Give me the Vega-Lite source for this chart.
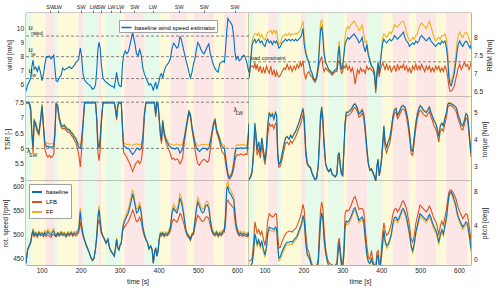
{
"$schema":"https://vega.github.io/schema/vega-lite/v6.json",
"padding":{"left":2,"top":3,"right":3,"bottom":5},
"background":"white",
"config":{"font":"Liberation Sans","view":{"stroke":"#262626","strokeWidth":0.6},
"axis":{"labelFontSize":6.5,"titleFontSize":6.8,"titleFontWeight":"normal","labelColor":"#262626","titleColor":"#262626","domain":false,"ticks":false,"grid":false,"labelPadding":2.5,"titlePadding":4,"labelOverlap":false},
"text":{"font":"Liberation Sans"}},
"datasets":{
"bg":[{"t0":60,"t1":73,"c":"g"},{"t0":73,"t1":110,"c":"y"},{"t0":110,"t1":134,"c":"p"},{"t0":134,"t1":143,"c":"g"},{"t0":143,"t1":194,"c":"y"},{"t0":194,"t1":206,"c":"p"},{"t0":206,"t1":245,"c":"g"},{"t0":245,"t1":253,"c":"p"},{"t0":253,"t1":264,"c":"y"},{"t0":264,"t1":304,"c":"g"},{"t0":304,"t1":312,"c":"y"},{"t0":312,"t1":364,"c":"p"},{"t0":364,"t1":403,"c":"g"},{"t0":403,"t1":430,"c":"y"},{"t0":430,"t1":472,"c":"p"},{"t0":472,"t1":490,"c":"y"},{"t0":490,"t1":541,"c":"p"},{"t0":541,"t1":567,"c":"y"},{"t0":567,"t1":622,"c":"p"},{"t0":622,"t1":631,"c":"y"}],
"ann":[{"p":"w","k":"m","t":66.5,"v":10.0,"txt":"u"},{"p":"w","k":"s","t":73.5,"v":9.7,"txt":"rated"},{"p":"w","k":"m","t":66.5,"v":8.47,"txt":"u"},{"p":"w","k":"s","t":73.5,"v":8.22,"txt":"te"},{"p":"w","k":"m","t":66.5,"v":6.99,"txt":"u"},{"p":"w","k":"s","t":73.5,"v":6.7,"txt":"lw"},{"p":"s","k":"m","t":62,"v":5.9,"txt":"λ"},{"p":"s","k":"s","t":68,"v":5.77,"txt":"SW"},{"p":"s","k":"m","t":591,"v":7.26,"txt":"λ"},{"p":"s","k":"s","t":597,"v":7.14,"txt":"LW"},{"p":"r","k":"l","t":62,"v":7.43,"txt":"load constraint"}],
"d":[
{"t":60,"w":5.55,"rb":6.9,"rl":6.85,"rf":6.92,"sb":7.5,"sl":7.47,"sf":7.5,"qb":2.5,"ql":2.48,"qf":2.51,"nb":440,"nl":439,"nf":441,"pb":-0.9,"pl":-0.2,"pf":-0.9},
{"t":64,"w":6.0,"rb":7.3,"rl":7.2,"rf":7.32,"sb":7.5,"sl":7.47,"sf":7.5,"qb":2.6,"ql":2.58,"qf":2.61,"nb":468,"nl":467,"nf":469,"pb":-0.8,"pl":-0.2,"pf":-0.8},
{"t":68,"w":6.2,"rb":7.8,"rl":7.2,"rf":7.9,"sb":7.5,"sl":7.46,"sf":7.5,"qb":2.8,"ql":2.75,"qf":2.82,"nb":476,"nl":474,"nf":478,"pb":-0.5,"pl":0.1,"pf":-0.6},
{"t":72,"w":6.5,"rb":7.9,"rl":7.15,"rf":8.05,"sb":7.3,"sl":7.22,"sf":7.34,"qb":3.6,"ql":3.45,"qf":3.63,"nb":484,"nl":482,"nf":487,"pb":1.0,"pl":2.0,"pf":0.7},
{"t":75,"w":7.3,"rb":7.95,"rl":7.3,"rf":8.1,"sb":6.5,"sl":6.42,"sf":6.55,"qb":4.6,"ql":4.35,"qf":4.63,"nb":500,"nl":497,"nf":503,"pb":3.0,"pl":4.4,"pf":2.7},
{"t":78,"w":7.75,"rb":7.85,"rl":7.1,"rf":8.1,"sb":6.05,"sl":5.85,"sf":6.12,"qb":4.2,"ql":3.95,"qf":4.23,"nb":508,"nl":503,"nf":512,"pb":2.5,"pl":3.8,"pf":2.2},
{"t":81,"w":7.1,"rb":7.9,"rl":7.25,"rf":8.05,"sb":6.9,"sl":6.83,"sf":6.94,"qb":3.6,"ql":3.4,"qf":3.63,"nb":498,"nl":495,"nf":501,"pb":1.8,"pl":3.1,"pf":1.5},
{"t":85,"w":7.25,"rb":7.95,"rl":7.05,"rf":8.12,"sb":6.8,"sl":6.73,"sf":6.84,"qb":3.9,"ql":3.65,"qf":3.93,"nb":503,"nl":500,"nf":506,"pb":2.3,"pl":3.5,"pf":2.0},
{"t":89,"w":6.95,"rb":7.85,"rl":7.2,"rf":8.0,"sb":6.6,"sl":6.52,"sf":6.64,"qb":3.5,"ql":3.3,"qf":3.53,"nb":497,"nl":494,"nf":500,"pb":1.6,"pl":2.9,"pf":1.3},
{"t":93,"w":7.3,"rb":7.9,"rl":7.0,"rf":8.08,"sb":6.5,"sl":6.43,"sf":6.55,"qb":4.05,"ql":3.8,"qf":4.08,"nb":504,"nl":501,"nf":507,"pb":2.1,"pl":3.3,"pf":1.8},
{"t":97,"w":6.9,"rb":7.8,"rl":7.15,"rf":7.98,"sb":6.9,"sl":6.82,"sf":6.94,"qb":3.6,"ql":3.4,"qf":3.63,"nb":500,"nl":497,"nf":503,"pb":1.2,"pl":2.4,"pf":0.9},
{"t":101,"w":6.3,"rb":7.75,"rl":7.0,"rf":7.92,"sb":7.4,"sl":7.33,"sf":7.44,"qb":3.2,"ql":3.05,"qf":3.22,"nb":502,"nl":499,"nf":505,"pb":0.5,"pl":1.6,"pf":0.2},
{"t":105,"w":6.8,"rb":7.9,"rl":7.2,"rf":8.05,"sb":6.7,"sl":6.62,"sf":6.74,"qb":3.7,"ql":3.5,"qf":3.73,"nb":498,"nl":495,"nf":501,"pb":1.5,"pl":2.8,"pf":1.2},
{"t":108,"w":7.4,"rb":7.95,"rl":7.1,"rf":8.15,"sb":6.2,"sl":6.0,"sf":6.26,"qb":4.5,"ql":4.15,"qf":4.53,"nb":504,"nl":500,"nf":508,"pb":3.0,"pl":4.5,"pf":2.7},
{"t":112,"w":8.0,"rb":7.85,"rl":7.0,"rf":8.15,"sb":6.05,"sl":5.8,"sf":6.15,"qb":5.0,"ql":4.6,"qf":5.04,"nb":500,"nl":496,"nf":505,"pb":3.8,"pl":5.4,"pf":3.5},
{"t":116,"w":7.95,"rb":7.9,"rl":7.2,"rf":8.2,"sb":6.07,"sl":5.72,"sf":6.18,"qb":4.85,"ql":4.5,"qf":4.89,"nb":506,"nl":499,"nf":511,"pb":3.7,"pl":5.2,"pf":3.4},
{"t":120,"w":8.05,"rb":7.8,"rl":6.95,"rf":8.1,"sb":6.03,"sl":5.78,"sf":6.13,"qb":4.95,"ql":4.55,"qf":4.99,"nb":501,"nl":496,"nf":506,"pb":3.6,"pl":5.0,"pf":3.3},
{"t":124,"w":7.85,"rb":7.9,"rl":7.1,"rf":8.2,"sb":6.06,"sl":5.7,"sf":6.16,"qb":4.75,"ql":4.4,"qf":4.79,"nb":498,"nl":494,"nf":503,"pb":3.5,"pl":5.1,"pf":3.2},
{"t":128,"w":7.95,"rb":7.85,"rl":6.9,"rf":8.12,"sb":6.04,"sl":5.75,"sf":6.15,"qb":5.0,"ql":4.6,"qf":5.04,"nb":505,"nl":499,"nf":510,"pb":3.8,"pl":5.4,"pf":3.5},
{"t":131,"w":8.1,"rb":7.9,"rl":7.05,"rf":8.18,"sb":6.08,"sl":5.8,"sf":6.16,"qb":4.9,"ql":4.55,"qf":4.94,"nb":507,"nl":500,"nf":512,"pb":3.6,"pl":5.3,"pf":3.3},
{"t":134,"w":7.2,"rb":7.8,"rl":6.95,"rf":7.95,"sb":6.5,"sl":6.4,"sf":6.55,"qb":3.5,"ql":3.3,"qf":3.53,"nb":500,"nl":497,"nf":503,"pb":1.5,"pl":2.8,"pf":1.2},
{"t":137,"w":6.3,"rb":7.7,"rl":6.9,"rf":7.8,"sb":7.45,"sl":7.4,"sf":7.47,"qb":3.05,"ql":2.95,"qf":3.07,"nb":497,"nl":495,"nf":499,"pb":0.1,"pl":1.3,"pf":-0.2},
{"t":141,"w":6.25,"rb":7.75,"rl":6.95,"rf":7.85,"sb":7.4,"sl":7.33,"sf":7.43,"qb":3.15,"ql":3.0,"qf":3.17,"nb":503,"nl":500,"nf":505,"pb":0.3,"pl":1.4,"pf":0.0},
{"t":145,"w":6.5,"rb":7.85,"rl":7.05,"rf":8.0,"sb":7.0,"sl":6.93,"sf":7.04,"qb":3.45,"ql":3.25,"qf":3.48,"nb":499,"nl":496,"nf":502,"pb":0.9,"pl":2.1,"pf":0.6},
{"t":150,"w":6.7,"rb":7.9,"rl":7.15,"rf":8.05,"sb":6.75,"sl":6.68,"sf":6.79,"qb":3.8,"ql":3.6,"qf":3.83,"nb":504,"nl":501,"nf":507,"pb":1.4,"pl":2.6,"pf":1.1},
{"t":154,"w":7.2,"rb":7.95,"rl":7.1,"rf":8.1,"sb":6.7,"sl":6.63,"sf":6.74,"qb":4.05,"ql":3.85,"qf":4.08,"nb":500,"nl":497,"nf":503,"pb":1.8,"pl":3.0,"pf":1.5},
{"t":158,"w":7.05,"rb":7.9,"rl":7.25,"rf":8.05,"sb":6.75,"sl":6.66,"sf":6.79,"qb":4.1,"ql":3.9,"qf":4.13,"nb":502,"nl":499,"nf":505,"pb":2.0,"pl":3.2,"pf":1.7},
{"t":163,"w":7.15,"rb":7.95,"rl":7.1,"rf":8.12,"sb":6.65,"sl":6.58,"sf":6.7,"qb":4.0,"ql":3.8,"qf":4.03,"nb":497,"nl":494,"nf":500,"pb":2.0,"pl":3.3,"pf":1.7},
{"t":167,"w":7.2,"rb":7.9,"rl":7.2,"rf":8.05,"sb":6.6,"sl":6.52,"sf":6.64,"qb":4.15,"ql":3.95,"qf":4.18,"nb":503,"nl":500,"nf":506,"pb":2.1,"pl":3.3,"pf":1.8},
{"t":171,"w":7.3,"rb":7.95,"rl":7.05,"rf":8.1,"sb":6.6,"sl":6.53,"sf":6.64,"qb":4.05,"ql":3.85,"qf":4.08,"nb":500,"nl":497,"nf":503,"pb":2.0,"pl":3.2,"pf":1.7},
{"t":176,"w":7.15,"rb":7.9,"rl":7.2,"rf":8.08,"sb":6.5,"sl":6.42,"sf":6.55,"qb":4.2,"ql":4.0,"qf":4.23,"nb":504,"nl":501,"nf":507,"pb":2.3,"pl":3.5,"pf":2.0},
{"t":180,"w":7.25,"rb":7.95,"rl":7.1,"rf":8.12,"sb":6.45,"sl":6.37,"sf":6.5,"qb":4.3,"ql":4.1,"qf":4.33,"nb":499,"nl":496,"nf":502,"pb":2.5,"pl":3.6,"pf":2.2},
{"t":184,"w":7.4,"rb":7.9,"rl":7.25,"rf":8.1,"sb":6.35,"sl":6.26,"sf":6.4,"qb":4.45,"ql":4.25,"qf":4.48,"nb":503,"nl":500,"nf":506,"pb":2.8,"pl":4.0,"pf":2.5},
{"t":188,"w":7.6,"rb":7.95,"rl":7.15,"rf":8.15,"sb":6.3,"sl":6.18,"sf":6.35,"qb":4.6,"ql":4.4,"qf":4.63,"nb":501,"nl":497,"nf":505,"pb":3.3,"pl":4.5,"pf":3.0},
{"t":192,"w":7.7,"rb":8.0,"rl":7.3,"rf":8.2,"sb":6.15,"sl":5.98,"sf":6.22,"qb":4.8,"ql":4.55,"qf":4.83,"nb":505,"nl":500,"nf":509,"pb":3.8,"pl":5.0,"pf":3.5},
{"t":195,"w":7.85,"rb":8.05,"rl":7.2,"rf":8.3,"sb":6.05,"sl":5.8,"sf":6.15,"qb":4.95,"ql":4.7,"qf":4.99,"nb":510,"nl":504,"nf":515,"pb":4.2,"pl":5.5,"pf":3.9},
{"t":199,"w":8.6,"rb":8.25,"rl":7.35,"rf":8.45,"sb":6.0,"sl":5.4,"sf":6.12,"qb":5.15,"ql":4.95,"qf":5.19,"nb":548,"nl":527,"nf":556,"pb":5.2,"pl":6.5,"pf":4.9},
{"t":202,"w":8.1,"rb":7.8,"rl":7.0,"rf":8.0,"sb":6.2,"sl":5.9,"sf":6.3,"qb":4.8,"ql":4.55,"qf":4.84,"nb":520,"nl":510,"nf":524,"pb":4.6,"pl":5.8,"pf":4.3},
{"t":206,"w":6.8,"rb":7.55,"rl":6.85,"rf":7.65,"sb":6.8,"sl":6.72,"sf":6.84,"qb":3.6,"ql":3.4,"qf":3.63,"nb":500,"nl":497,"nf":503,"pb":2.0,"pl":3.1,"pf":1.7},
{"t":210,"w":6.35,"rb":7.4,"rl":7.0,"rf":7.45,"sb":7.5,"sl":7.46,"sf":7.5,"qb":3.1,"ql":3.05,"qf":3.11,"nb":488,"nl":487,"nf":489,"pb":0.5,"pl":1.2,"pf":0.3},
{"t":214,"w":6.2,"rb":7.3,"rl":7.05,"rf":7.32,"sb":7.5,"sl":7.47,"sf":7.5,"qb":3.0,"ql":2.97,"qf":3.01,"nb":478,"nl":477,"nf":479,"pb":0.3,"pl":0.8,"pf":0.1},
{"t":218,"w":6.1,"rb":7.1,"rl":6.95,"rf":7.12,"sb":7.5,"sl":7.47,"sf":7.5,"qb":2.95,"ql":2.92,"qf":2.96,"nb":470,"nl":469,"nf":471,"pb":-0.3,"pl":0.0,"pf":-0.4},
{"t":222,"w":6.0,"rb":7.0,"rl":6.9,"rf":7.02,"sb":7.5,"sl":7.47,"sf":7.5,"qb":2.75,"ql":2.73,"qf":2.76,"nb":462,"nl":461,"nf":463,"pb":-0.9,"pl":-0.6,"pf":-0.9},
{"t":226,"w":5.9,"rb":6.85,"rl":6.8,"rf":6.87,"sb":7.5,"sl":7.47,"sf":7.5,"qb":2.6,"ql":2.58,"qf":2.61,"nb":452,"nl":451,"nf":453,"pb":-1.2,"pl":-0.9,"pf":-1.2},
{"t":230,"w":5.7,"rb":6.8,"rl":6.75,"rf":6.82,"sb":7.5,"sl":7.47,"sf":7.5,"qb":2.5,"ql":2.48,"qf":2.51,"nb":446,"nl":445,"nf":447,"pb":-1.2,"pl":-1.0,"pf":-1.2},
{"t":234,"w":5.75,"rb":6.9,"rl":6.85,"rf":6.92,"sb":7.5,"sl":7.47,"sf":7.5,"qb":2.55,"ql":2.53,"qf":2.56,"nb":450,"nl":449,"nf":451,"pb":-1.2,"pl":-0.8,"pf":-1.2},
{"t":238,"w":6.0,"rb":7.2,"rl":7.1,"rf":7.25,"sb":7.5,"sl":7.47,"sf":7.5,"qb":3.0,"ql":2.97,"qf":3.01,"nb":470,"nl":469,"nf":471,"pb":-0.5,"pl":0.0,"pf":-0.6},
{"t":241,"w":7.0,"rb":7.7,"rl":7.3,"rf":7.85,"sb":7.0,"sl":6.92,"sf":7.04,"qb":3.9,"ql":3.75,"qf":3.93,"nb":495,"nl":492,"nf":498,"pb":2.0,"pl":3.2,"pf":1.7},
{"t":244,"w":8.5,"rb":8.2,"rl":7.4,"rf":8.4,"sb":6.2,"sl":5.9,"sf":6.28,"qb":4.9,"ql":4.7,"qf":4.94,"nb":535,"nl":521,"nf":540,"pb":4.5,"pl":5.8,"pf":4.2},
{"t":247,"w":9.0,"rb":8.3,"rl":7.45,"rf":8.5,"sb":6.0,"sl":5.6,"sf":6.12,"qb":5.2,"ql":5.0,"qf":5.24,"nb":552,"nl":531,"nf":560,"pb":5.5,"pl":6.8,"pf":5.2},
{"t":250,"w":8.6,"rb":8.0,"rl":7.2,"rf":8.2,"sb":6.3,"sl":5.95,"sf":6.38,"qb":4.8,"ql":4.6,"qf":4.84,"nb":530,"nl":518,"nf":534,"pb":4.8,"pl":6.0,"pf":4.5},
{"t":253,"w":7.4,"rb":7.55,"rl":7.05,"rf":7.65,"sb":6.9,"sl":6.82,"sf":6.95,"qb":3.9,"ql":3.75,"qf":3.93,"nb":505,"nl":502,"nf":508,"pb":2.5,"pl":3.6,"pf":2.2},
{"t":257,"w":6.5,"rb":7.3,"rl":7.15,"rf":7.33,"sb":7.5,"sl":7.46,"sf":7.5,"qb":3.1,"ql":3.07,"qf":3.11,"nb":497,"nl":496,"nf":498,"pb":0.8,"pl":1.3,"pf":0.6},
{"t":261,"w":6.3,"rb":7.2,"rl":7.1,"rf":7.22,"sb":7.5,"sl":7.47,"sf":7.5,"qb":2.9,"ql":2.88,"qf":2.91,"nb":490,"nl":489,"nf":491,"pb":-0.2,"pl":0.2,"pf":-0.3},
{"t":265,"w":6.2,"rb":7.1,"rl":7.05,"rf":7.12,"sb":7.5,"sl":7.47,"sf":7.5,"qb":2.8,"ql":2.78,"qf":2.81,"nb":482,"nl":481,"nf":483,"pb":-0.8,"pl":-0.4,"pf":-0.8},
{"t":270,"w":6.1,"rb":7.05,"rl":7.0,"rf":7.07,"sb":7.5,"sl":7.47,"sf":7.5,"qb":2.9,"ql":2.87,"qf":2.91,"nb":490,"nl":489,"nf":491,"pb":-1.0,"pl":-0.6,"pf":-1.0},
{"t":274,"w":6.0,"rb":7.0,"rl":6.95,"rf":7.02,"sb":7.5,"sl":7.47,"sf":7.5,"qb":2.7,"ql":2.68,"qf":2.71,"nb":472,"nl":471,"nf":473,"pb":-1.0,"pl":-0.7,"pf":-1.0},
{"t":278,"w":5.95,"rb":7.05,"rl":7.0,"rf":7.07,"sb":7.5,"sl":7.47,"sf":7.5,"qb":2.65,"ql":2.63,"qf":2.66,"nb":465,"nl":464,"nf":466,"pb":-1.2,"pl":-0.9,"pf":-1.2},
{"t":282,"w":5.9,"rb":7.1,"rl":7.05,"rf":7.12,"sb":7.5,"sl":7.47,"sf":7.5,"qb":2.6,"ql":2.58,"qf":2.61,"nb":460,"nl":459,"nf":461,"pb":-1.0,"pl":-0.7,"pf":-1.0},
{"t":286,"w":5.8,"rb":7.1,"rl":7.05,"rf":7.12,"sb":7.5,"sl":7.47,"sf":7.5,"qb":2.7,"ql":2.68,"qf":2.71,"nb":455,"nl":454,"nf":456,"pb":-0.9,"pl":-0.5,"pf":-0.9},
{"t":289,"w":6.3,"rb":7.5,"rl":7.3,"rf":7.6,"sb":7.3,"sl":7.24,"sf":7.33,"qb":3.4,"ql":3.3,"qf":3.42,"nb":470,"nl":469,"nf":472,"pb":0.8,"pl":1.8,"pf":0.6},
{"t":292,"w":6.9,"rb":7.75,"rl":7.35,"rf":7.9,"sb":7.0,"sl":6.92,"sf":7.04,"qb":3.5,"ql":3.35,"qf":3.53,"nb":490,"nl":488,"nf":493,"pb":2.0,"pl":2.5,"pf":1.8},
{"t":295,"w":6.3,"rb":7.3,"rl":7.15,"rf":7.35,"sb":7.4,"sl":7.35,"sf":7.43,"qb":3.0,"ql":2.95,"qf":3.02,"nb":472,"nl":471,"nf":473,"pb":0.5,"pl":1.0,"pf":0.3},
{"t":298,"w":6.0,"rb":7.1,"rl":7.0,"rf":7.12,"sb":7.5,"sl":7.47,"sf":7.5,"qb":2.7,"ql":2.68,"qf":2.71,"nb":468,"nl":467,"nf":469,"pb":-0.8,"pl":-0.4,"pf":-0.8},
{"t":301,"w":5.9,"rb":7.2,"rl":7.05,"rf":7.22,"sb":7.5,"sl":7.47,"sf":7.5,"qb":2.65,"ql":2.63,"qf":2.66,"nb":478,"nl":477,"nf":479,"pb":-1.0,"pl":-0.6,"pf":-1.0},
{"t":304,"w":5.9,"rb":7.5,"rl":7.2,"rf":7.55,"sb":7.5,"sl":7.45,"sf":7.5,"qb":3.6,"ql":3.5,"qf":3.62,"nb":482,"nl":481,"nf":483,"pb":0.5,"pl":1.2,"pf":0.3},
{"t":307,"w":7.4,"rb":7.8,"rl":7.15,"rf":8.0,"sb":6.7,"sl":6.6,"sf":6.75,"qb":4.6,"ql":4.45,"qf":4.63,"nb":508,"nl":505,"nf":511,"pb":3.8,"pl":5.3,"pf":3.5},
{"t":310,"w":8.1,"rb":7.9,"rl":7.25,"rf":8.2,"sb":6.1,"sl":5.85,"sf":6.18,"qb":5.0,"ql":4.88,"qf":5.04,"nb":522,"nl":513,"nf":528,"pb":4.5,"pl":5.8,"pf":4.2},
{"t":314,"w":8.4,"rb":8.0,"rl":7.1,"rf":8.3,"sb":6.05,"sl":5.8,"sf":6.15,"qb":5.0,"ql":4.9,"qf":5.04,"nb":530,"nl":518,"nf":536,"pb":4.4,"pl":5.7,"pf":4.1},
{"t":318,"w":8.2,"rb":7.95,"rl":7.2,"rf":8.25,"sb":6.0,"sl":5.7,"sf":6.12,"qb":5.05,"ql":4.92,"qf":5.09,"nb":538,"nl":523,"nf":545,"pb":4.6,"pl":5.9,"pf":4.3},
{"t":322,"w":8.35,"rb":8.0,"rl":7.05,"rf":8.35,"sb":6.0,"sl":5.6,"sf":6.14,"qb":5.1,"ql":4.98,"qf":5.14,"nb":545,"nl":527,"nf":553,"pb":5.0,"pl":6.3,"pf":4.7},
{"t":326,"w":8.8,"rb":8.05,"rl":7.15,"rf":8.4,"sb":5.95,"sl":5.5,"sf":6.12,"qb":5.2,"ql":5.08,"qf":5.24,"nb":558,"nl":535,"nf":567,"pb":5.5,"pl":6.8,"pf":5.2},
{"t":330,"w":9.3,"rb":8.1,"rl":6.95,"rf":8.45,"sb":5.85,"sl":5.35,"sf":6.1,"qb":5.3,"ql":5.18,"qf":5.34,"nb":572,"nl":543,"nf":583,"pb":6.0,"pl":7.3,"pf":5.7},
{"t":333,"w":9.7,"rb":8.05,"rl":6.7,"rf":8.4,"sb":5.8,"sl":5.25,"sf":6.1,"qb":5.32,"ql":5.2,"qf":5.36,"nb":585,"nl":551,"nf":594,"pb":6.1,"pl":7.4,"pf":5.8},
{"t":336,"w":9.3,"rb":8.0,"rl":6.9,"rf":8.35,"sb":5.85,"sl":5.35,"sf":6.12,"qb":5.25,"ql":5.13,"qf":5.29,"nb":575,"nl":545,"nf":585,"pb":5.7,"pl":7.0,"pf":5.4},
{"t":339,"w":8.9,"rb":7.95,"rl":7.1,"rf":8.3,"sb":5.9,"sl":5.45,"sf":6.13,"qb":5.15,"ql":5.03,"qf":5.19,"nb":562,"nl":537,"nf":570,"pb":5.2,"pl":6.5,"pf":4.9},
{"t":343,"w":8.2,"rb":7.85,"rl":7.0,"rf":8.2,"sb":6.0,"sl":5.55,"sf":6.15,"qb":4.95,"ql":4.83,"qf":4.99,"nb":545,"nl":527,"nf":552,"pb":4.6,"pl":5.9,"pf":4.3},
{"t":347,"w":8.05,"rb":7.9,"rl":7.15,"rf":8.25,"sb":6.0,"sl":5.6,"sf":6.13,"qb":5.0,"ql":4.88,"qf":5.04,"nb":548,"nl":529,"nf":555,"pb":4.8,"pl":6.0,"pf":4.5},
{"t":351,"w":8.5,"rb":8.0,"rl":7.05,"rf":8.35,"sb":5.95,"sl":5.5,"sf":6.12,"qb":5.1,"ql":4.98,"qf":5.14,"nb":560,"nl":536,"nf":568,"pb":5.0,"pl":6.0,"pf":4.7},
{"t":355,"w":8.1,"rb":7.75,"rl":7.1,"rf":8.1,"sb":6.0,"sl":5.6,"sf":6.14,"qb":4.95,"ql":4.83,"qf":4.99,"nb":545,"nl":527,"nf":552,"pb":4.5,"pl":5.7,"pf":4.2},
{"t":359,"w":7.2,"rb":7.6,"rl":7.0,"rf":7.85,"sb":6.3,"sl":6.0,"sf":6.38,"qb":4.4,"ql":4.25,"qf":4.44,"nb":515,"nl":509,"nf":519,"pb":2.5,"pl":3.6,"pf":2.2},
{"t":363,"w":6.8,"rb":7.8,"rl":7.2,"rf":7.9,"sb":7.1,"sl":7.02,"sf":7.14,"qb":3.7,"ql":3.55,"qf":3.73,"nb":500,"nl":497,"nf":503,"pb":0.6,"pl":1.6,"pf":0.3},
{"t":367,"w":6.5,"rb":7.5,"rl":7.1,"rf":7.55,"sb":7.5,"sl":7.46,"sf":7.5,"qb":3.1,"ql":3.07,"qf":3.11,"nb":490,"nl":489,"nf":491,"pb":-0.3,"pl":0.2,"pf":-0.4},
{"t":371,"w":6.25,"rb":7.35,"rl":7.15,"rf":7.38,"sb":7.5,"sl":7.47,"sf":7.5,"qb":2.85,"ql":2.83,"qf":2.86,"nb":483,"nl":482,"nf":484,"pb":-0.5,"pl":0.0,"pf":-0.6},
{"t":375,"w":6.0,"rb":7.2,"rl":7.1,"rf":7.22,"sb":7.5,"sl":7.47,"sf":7.5,"qb":2.9,"ql":2.88,"qf":2.91,"nb":470,"nl":469,"nf":471,"pb":0.0,"pl":1.0,"pf":-0.2},
{"t":379,"w":6.1,"rb":7.15,"rl":7.05,"rf":7.17,"sb":7.5,"sl":7.47,"sf":7.5,"qb":2.75,"ql":2.73,"qf":2.76,"nb":476,"nl":475,"nf":477,"pb":-0.6,"pl":-0.3,"pf":-0.6},
{"t":383,"w":5.9,"rb":7.0,"rl":6.9,"rf":7.02,"sb":7.5,"sl":7.47,"sf":7.5,"qb":2.6,"ql":2.58,"qf":2.61,"nb":468,"nl":467,"nf":469,"pb":-1.0,"pl":-0.7,"pf":-1.0},
{"t":386,"w":5.6,"rb":6.55,"rl":6.45,"rf":6.57,"sb":7.5,"sl":7.47,"sf":7.5,"qb":2.45,"ql":2.43,"qf":2.46,"nb":440,"nl":439,"nf":441,"pb":-1.2,"pl":-1.0,"pf":-1.2},
{"t":389,"w":5.95,"rb":7.0,"rl":6.9,"rf":7.02,"sb":7.5,"sl":7.47,"sf":7.5,"qb":3.0,"ql":2.97,"qf":3.01,"nb":462,"nl":461,"nf":463,"pb":0.2,"pl":0.8,"pf":0.0},
{"t":392,"w":6.2,"rb":7.3,"rl":7.15,"rf":7.35,"sb":7.1,"sl":7.02,"sf":7.14,"qb":3.25,"ql":3.2,"qf":3.27,"nb":472,"nl":471,"nf":473,"pb":0.5,"pl":1.0,"pf":0.3},
{"t":395,"w":5.7,"rb":7.0,"rl":6.9,"rf":7.02,"sb":7.5,"sl":7.47,"sf":7.5,"qb":2.65,"ql":2.63,"qf":2.66,"nb":455,"nl":454,"nf":456,"pb":-0.8,"pl":-0.4,"pf":-0.8},
{"t":398,"w":6.0,"rb":7.3,"rl":7.1,"rf":7.33,"sb":7.45,"sl":7.4,"sf":7.47,"qb":2.9,"ql":2.87,"qf":2.91,"nb":465,"nl":464,"nf":466,"pb":-0.8,"pl":-0.5,"pf":-0.8},
{"t":401,"w":6.3,"rb":7.6,"rl":7.2,"rf":7.7,"sb":7.0,"sl":6.93,"sf":7.04,"qb":3.3,"ql":3.2,"qf":3.32,"nb":490,"nl":488,"nf":492,"pb":0.5,"pl":1.5,"pf":0.3},
{"t":404,"w":6.7,"rb":7.85,"rl":7.3,"rf":8.0,"sb":6.5,"sl":6.42,"sf":6.55,"qb":3.9,"ql":3.7,"qf":3.93,"nb":502,"nl":499,"nf":505,"pb":2.0,"pl":3.2,"pf":1.7},
{"t":407,"w":6.8,"rb":7.95,"rl":7.2,"rf":8.1,"sb":6.25,"sl":6.15,"sf":6.3,"qb":4.5,"ql":4.3,"qf":4.53,"nb":500,"nl":497,"nf":503,"pb":3.4,"pl":4.3,"pf":3.1},
{"t":410,"w":6.5,"rb":7.9,"rl":7.1,"rf":8.05,"sb":6.9,"sl":6.82,"sf":6.94,"qb":3.9,"ql":3.7,"qf":3.93,"nb":503,"nl":500,"nf":506,"pb":2.2,"pl":3.4,"pf":1.9},
{"t":414,"w":7.0,"rb":7.85,"rl":7.25,"rf":8.0,"sb":6.5,"sl":6.42,"sf":6.55,"qb":3.7,"ql":3.5,"qf":3.73,"nb":498,"nl":495,"nf":501,"pb":1.6,"pl":2.8,"pf":1.3},
{"t":418,"w":7.3,"rb":7.9,"rl":7.1,"rf":8.08,"sb":6.3,"sl":6.2,"sf":6.35,"qb":3.9,"ql":3.7,"qf":3.93,"nb":502,"nl":499,"nf":505,"pb":1.8,"pl":3.0,"pf":1.5},
{"t":422,"w":7.45,"rb":7.95,"rl":7.2,"rf":8.15,"sb":6.2,"sl":6.08,"sf":6.26,"qb":4.05,"ql":3.85,"qf":4.08,"nb":500,"nl":497,"nf":503,"pb":2.3,"pl":3.5,"pf":2.0},
{"t":426,"w":7.6,"rb":7.9,"rl":7.05,"rf":8.1,"sb":6.1,"sl":5.95,"sf":6.17,"qb":4.4,"ql":4.2,"qf":4.43,"nb":505,"nl":501,"nf":509,"pb":3.0,"pl":4.2,"pf":2.7},
{"t":430,"w":7.9,"rb":7.95,"rl":7.15,"rf":8.2,"sb":6.05,"sl":5.8,"sf":6.14,"qb":4.85,"ql":4.7,"qf":4.89,"nb":515,"nl":508,"nf":520,"pb":4.2,"pl":5.3,"pf":3.9},
{"t":434,"w":8.6,"rb":8.05,"rl":7.2,"rf":8.35,"sb":6.0,"sl":5.65,"sf":6.12,"qb":5.1,"ql":4.98,"qf":5.14,"nb":545,"nl":526,"nf":552,"pb":4.9,"pl":5.9,"pf":4.6},
{"t":438,"w":8.95,"rb":8.0,"rl":7.05,"rf":8.3,"sb":6.0,"sl":5.68,"sf":6.1,"qb":5.15,"ql":5.03,"qf":5.19,"nb":555,"nl":532,"nf":563,"pb":5.0,"pl":6.0,"pf":4.7},
{"t":442,"w":8.8,"rb":7.95,"rl":7.25,"rf":8.3,"sb":5.98,"sl":5.62,"sf":6.12,"qb":4.9,"ql":4.78,"qf":4.94,"nb":550,"nl":529,"nf":558,"pb":4.6,"pl":5.6,"pf":4.3},
{"t":446,"w":8.6,"rb":8.0,"rl":7.1,"rf":8.35,"sb":6.02,"sl":5.66,"sf":6.14,"qb":5.0,"ql":4.88,"qf":5.04,"nb":545,"nl":526,"nf":552,"pb":4.9,"pl":5.9,"pf":4.6},
{"t":450,"w":8.7,"rb":8.05,"rl":7.2,"rf":8.4,"sb":6.0,"sl":5.63,"sf":6.12,"qb":5.15,"ql":5.03,"qf":5.19,"nb":555,"nl":532,"nf":563,"pb":5.4,"pl":6.3,"pf":5.1},
{"t":454,"w":9.4,"rb":8.1,"rl":7.15,"rf":8.45,"sb":5.85,"sl":5.5,"sf":6.1,"qb":5.25,"ql":5.13,"qf":5.29,"nb":575,"nl":544,"nf":585,"pb":5.9,"pl":6.8,"pf":5.6},
{"t":457,"w":9.3,"rb":8.15,"rl":7.25,"rf":8.45,"sb":5.9,"sl":5.55,"sf":6.12,"qb":5.25,"ql":5.13,"qf":5.29,"nb":570,"nl":541,"nf":580,"pb":6.0,"pl":6.9,"pf":5.7},
{"t":461,"w":8.8,"rb":8.0,"rl":7.1,"rf":8.35,"sb":6.0,"sl":5.7,"sf":6.13,"qb":5.2,"ql":5.08,"qf":5.24,"nb":555,"nl":532,"nf":563,"pb":5.6,"pl":6.5,"pf":5.3},
{"t":465,"w":8.3,"rb":7.9,"rl":7.2,"rf":8.15,"sb":6.3,"sl":6.15,"sf":6.36,"qb":5.0,"ql":4.85,"qf":5.04,"nb":535,"nl":520,"nf":540,"pb":5.0,"pl":6.0,"pf":4.7},
{"t":469,"w":7.8,"rb":7.85,"rl":7.05,"rf":8.0,"sb":6.6,"sl":6.52,"sf":6.65,"qb":4.7,"ql":4.5,"qf":4.73,"nb":510,"nl":506,"nf":513,"pb":4.0,"pl":5.0,"pf":3.7},
{"t":473,"w":7.4,"rb":7.75,"rl":7.15,"rf":7.9,"sb":6.9,"sl":6.82,"sf":6.94,"qb":4.25,"ql":4.05,"qf":4.28,"nb":500,"nl":497,"nf":503,"pb":3.0,"pl":3.9,"pf":2.7},
{"t":477,"w":6.9,"rb":7.8,"rl":7.0,"rf":7.92,"sb":7.2,"sl":7.13,"sf":7.24,"qb":3.6,"ql":3.45,"qf":3.63,"nb":496,"nl":493,"nf":499,"pb":1.6,"pl":2.4,"pf":1.3},
{"t":481,"w":6.5,"rb":7.85,"rl":7.2,"rf":8.0,"sb":7.1,"sl":7.03,"sf":7.14,"qb":3.55,"ql":3.4,"qf":3.58,"nb":490,"nl":487,"nf":493,"pb":1.0,"pl":2.0,"pf":0.7},
{"t":485,"w":6.9,"rb":7.8,"rl":7.1,"rf":7.95,"sb":6.7,"sl":6.62,"sf":6.75,"qb":4.1,"ql":3.9,"qf":4.13,"nb":500,"nl":497,"nf":503,"pb":1.8,"pl":2.8,"pf":1.5},
{"t":489,"w":7.5,"rb":7.9,"rl":7.25,"rf":8.05,"sb":6.4,"sl":6.3,"sf":6.45,"qb":4.6,"ql":4.4,"qf":4.63,"nb":503,"nl":500,"nf":506,"pb":3.2,"pl":4.2,"pf":2.9},
{"t":493,"w":7.9,"rb":7.85,"rl":7.1,"rf":8.1,"sb":6.15,"sl":5.95,"sf":6.22,"qb":4.95,"ql":4.8,"qf":4.99,"nb":530,"nl":518,"nf":534,"pb":4.0,"pl":5.0,"pf":3.7},
{"t":497,"w":8.6,"rb":7.9,"rl":7.2,"rf":8.25,"sb":6.0,"sl":5.65,"sf":6.12,"qb":5.15,"ql":5.0,"qf":5.19,"nb":555,"nl":533,"nf":563,"pb":4.8,"pl":5.8,"pf":4.5},
{"t":500,"w":9.0,"rb":8.0,"rl":7.1,"rf":8.35,"sb":5.95,"sl":5.5,"sf":6.1,"qb":5.25,"ql":5.1,"qf":5.29,"nb":568,"nl":540,"nf":577,"pb":5.4,"pl":6.4,"pf":5.1},
{"t":504,"w":8.8,"rb":8.05,"rl":7.25,"rf":8.4,"sb":5.9,"sl":5.45,"sf":6.08,"qb":5.2,"ql":5.05,"qf":5.24,"nb":560,"nl":536,"nf":568,"pb":5.2,"pl":6.2,"pf":4.9},
{"t":508,"w":8.5,"rb":8.0,"rl":7.15,"rf":8.35,"sb":5.95,"sl":5.55,"sf":6.12,"qb":5.1,"ql":4.95,"qf":5.14,"nb":550,"nl":530,"nf":557,"pb":5.0,"pl":6.0,"pf":4.7},
{"t":512,"w":8.3,"rb":7.95,"rl":7.05,"rf":8.3,"sb":6.0,"sl":5.6,"sf":6.13,"qb":5.05,"ql":4.9,"qf":5.09,"nb":545,"nl":527,"nf":552,"pb":4.8,"pl":5.8,"pf":4.5},
{"t":516,"w":8.2,"rb":7.9,"rl":7.2,"rf":8.25,"sb":6.0,"sl":5.65,"sf":6.12,"qb":5.0,"ql":4.85,"qf":5.04,"nb":548,"nl":529,"nf":555,"pb":4.6,"pl":5.6,"pf":4.3},
{"t":520,"w":8.45,"rb":7.95,"rl":7.1,"rf":8.35,"sb":6.0,"sl":5.6,"sf":6.14,"qb":5.1,"ql":4.95,"qf":5.14,"nb":560,"nl":536,"nf":568,"pb":4.9,"pl":5.9,"pf":4.6},
{"t":524,"w":8.7,"rb":8.0,"rl":7.2,"rf":8.45,"sb":5.95,"sl":5.55,"sf":6.12,"qb":5.2,"ql":5.05,"qf":5.24,"nb":562,"nl":537,"nf":570,"pb":5.3,"pl":6.3,"pf":5.0},
{"t":528,"w":8.9,"rb":7.9,"rl":7.05,"rf":8.3,"sb":6.0,"sl":5.6,"sf":6.13,"qb":5.0,"ql":4.85,"qf":5.04,"nb":555,"nl":533,"nf":563,"pb":4.9,"pl":5.9,"pf":4.6},
{"t":532,"w":8.2,"rb":7.85,"rl":7.15,"rf":8.15,"sb":6.2,"sl":5.95,"sf":6.28,"qb":4.85,"ql":4.7,"qf":4.89,"nb":530,"nl":518,"nf":534,"pb":4.3,"pl":5.3,"pf":4.0},
{"t":536,"w":7.8,"rb":7.8,"rl":7.05,"rf":8.0,"sb":6.5,"sl":6.42,"sf":6.55,"qb":4.7,"ql":4.5,"qf":4.73,"nb":510,"nl":506,"nf":513,"pb":3.8,"pl":4.8,"pf":3.5},
{"t":540,"w":7.4,"rb":7.75,"rl":7.2,"rf":7.9,"sb":6.8,"sl":6.72,"sf":6.84,"qb":4.6,"ql":4.4,"qf":4.63,"nb":502,"nl":499,"nf":505,"pb":3.5,"pl":4.5,"pf":3.2},
{"t":544,"w":7.15,"rb":7.8,"rl":7.1,"rf":7.95,"sb":6.95,"sl":6.88,"sf":6.99,"qb":4.4,"ql":4.2,"qf":4.43,"nb":500,"nl":497,"nf":503,"pb":2.9,"pl":3.9,"pf":2.6},
{"t":548,"w":7.0,"rb":7.85,"rl":7.2,"rf":8.0,"sb":6.6,"sl":6.52,"sf":6.65,"qb":4.1,"ql":3.9,"qf":4.13,"nb":505,"nl":502,"nf":508,"pb":2.0,"pl":2.8,"pf":1.7},
{"t":552,"w":6.9,"rb":7.8,"rl":7.05,"rf":7.95,"sb":6.45,"sl":6.37,"sf":6.5,"qb":4.5,"ql":4.3,"qf":4.53,"nb":498,"nl":495,"nf":501,"pb":2.9,"pl":3.9,"pf":2.6},
{"t":556,"w":7.5,"rb":7.9,"rl":7.15,"rf":8.05,"sb":6.3,"sl":6.2,"sf":6.35,"qb":4.6,"ql":4.4,"qf":4.63,"nb":503,"nl":500,"nf":506,"pb":3.5,"pl":4.5,"pf":3.2},
{"t":560,"w":7.6,"rb":7.85,"rl":7.05,"rf":8.05,"sb":6.1,"sl":5.95,"sf":6.17,"qb":4.5,"ql":4.3,"qf":4.53,"nb":500,"nl":497,"nf":503,"pb":3.0,"pl":4.0,"pf":2.7},
{"t":564,"w":7.7,"rb":7.9,"rl":7.2,"rf":8.1,"sb":6.05,"sl":5.85,"sf":6.13,"qb":4.8,"ql":4.6,"qf":4.83,"nb":506,"nl":502,"nf":510,"pb":4.0,"pl":5.0,"pf":3.7},
{"t":568,"w":7.6,"rb":7.7,"rl":7.1,"rf":7.95,"sb":6.0,"sl":5.8,"sf":6.1,"qb":5.0,"ql":4.85,"qf":5.04,"nb":510,"nl":505,"nf":514,"pb":5.0,"pl":5.9,"pf":4.7},
{"t":571,"w":8.5,"rb":7.4,"rl":6.9,"rf":7.6,"sb":5.7,"sl":5.5,"sf":5.8,"qb":5.3,"ql":5.2,"qf":5.33,"nb":540,"nl":525,"nf":546,"pb":6.3,"pl":7.0,"pf":6.0},
{"t":574,"w":9.8,"rb":6.9,"rl":6.65,"rf":7.05,"sb":5.4,"sl":5.3,"sf":5.48,"qb":5.35,"ql":5.27,"qf":5.38,"nb":595,"nl":568,"nf":606,"pb":7.5,"pl":7.9,"pf":7.2},
{"t":577,"w":10.7,"rb":6.7,"rl":6.5,"rf":6.8,"sb":5.15,"sl":5.1,"sf":5.2,"qb":5.35,"ql":5.28,"qf":5.38,"nb":600,"nl":572,"nf":611,"pb":7.9,"pl":8.2,"pf":7.7},
{"t":580,"w":10.55,"rb":6.65,"rl":6.5,"rf":6.75,"sb":5.05,"sl":5.0,"sf":5.1,"qb":5.33,"ql":5.26,"qf":5.36,"nb":588,"nl":566,"nf":597,"pb":8.0,"pl":8.2,"pf":7.8},
{"t":584,"w":10.4,"rb":6.8,"rl":6.55,"rf":6.9,"sb":5.1,"sl":5.05,"sf":5.15,"qb":5.3,"ql":5.22,"qf":5.33,"nb":585,"nl":563,"nf":594,"pb":7.6,"pl":8.0,"pf":7.3},
{"t":588,"w":10.2,"rb":7.0,"rl":6.65,"rf":7.15,"sb":5.2,"sl":5.15,"sf":5.28,"qb":5.25,"ql":5.15,"qf":5.28,"nb":578,"nl":559,"nf":586,"pb":7.0,"pl":7.6,"pf":6.7},
{"t":592,"w":9.4,"rb":7.3,"rl":6.85,"rf":7.5,"sb":5.5,"sl":5.35,"sf":5.6,"qb":5.2,"ql":5.08,"qf":5.24,"nb":572,"nl":555,"nf":580,"pb":6.4,"pl":7.2,"pf":6.1},
{"t":595,"w":8.3,"rb":7.6,"rl":7.0,"rf":7.85,"sb":5.8,"sl":5.6,"sf":5.92,"qb":5.1,"ql":4.95,"qf":5.14,"nb":545,"nl":529,"nf":551,"pb":5.6,"pl":6.6,"pf":5.3},
{"t":598,"w":7.8,"rb":7.8,"rl":7.15,"rf":8.05,"sb":6.0,"sl":5.75,"sf":6.1,"qb":4.9,"ql":4.75,"qf":4.94,"nb":520,"nl":513,"nf":524,"pb":5.1,"pl":6.1,"pf":4.8},
{"t":602,"w":8.0,"rb":7.9,"rl":7.25,"rf":8.15,"sb":6.0,"sl":5.8,"sf":6.12,"qb":4.75,"ql":4.6,"qf":4.79,"nb":506,"nl":502,"nf":510,"pb":4.6,"pl":5.6,"pf":4.3},
{"t":606,"w":7.7,"rb":7.8,"rl":7.1,"rf":8.05,"sb":6.0,"sl":5.78,"sf":6.1,"qb":4.55,"ql":4.4,"qf":4.59,"nb":500,"nl":497,"nf":504,"pb":4.2,"pl":5.2,"pf":3.9},
{"t":610,"w":7.8,"rb":7.75,"rl":7.2,"rf":8.0,"sb":6.02,"sl":5.82,"sf":6.12,"qb":4.5,"ql":4.35,"qf":4.54,"nb":503,"nl":499,"nf":507,"pb":3.8,"pl":4.8,"pf":3.5},
{"t":614,"w":8.0,"rb":7.85,"rl":7.3,"rf":8.1,"sb":6.0,"sl":5.8,"sf":6.11,"qb":4.7,"ql":4.55,"qf":4.74,"nb":499,"nl":496,"nf":503,"pb":4.1,"pl":5.1,"pf":3.8},
{"t":618,"w":8.1,"rb":7.9,"rl":7.2,"rf":8.15,"sb":6.0,"sl":5.78,"sf":6.12,"qb":4.95,"ql":4.8,"qf":4.99,"nb":502,"nl":498,"nf":506,"pb":4.4,"pl":5.4,"pf":4.1},
{"t":622,"w":7.9,"rb":7.85,"rl":7.25,"rf":8.1,"sb":6.02,"sl":5.82,"sf":6.1,"qb":4.9,"ql":4.75,"qf":4.94,"nb":500,"nl":497,"nf":504,"pb":4.2,"pl":5.2,"pf":3.9},
{"t":626,"w":7.5,"rb":7.75,"rl":7.1,"rf":7.95,"sb":6.0,"sl":5.8,"sf":6.1,"qb":4.3,"ql":4.15,"qf":4.33,"nb":498,"nl":495,"nf":502,"pb":3.0,"pl":4.0,"pf":2.7},
{"t":629,"w":7.1,"rb":7.7,"rl":7.2,"rf":7.85,"sb":6.4,"sl":6.3,"sf":6.45,"qb":3.8,"ql":3.65,"qf":3.83,"nb":502,"nl":499,"nf":505,"pb":2.0,"pl":3.0,"pf":1.7},
{"t":631,"w":6.9,"rb":7.8,"rl":7.3,"rf":7.9,"sb":6.8,"sl":6.7,"sf":6.85,"qb":3.5,"ql":3.35,"qf":3.53,"nb":498,"nl":495,"nf":501,"pb":1.2,"pl":2.2,"pf":0.9}
]},
"columns":2,"spacing":0,"bounds":"flush",
"resolve":{"scale":{"stroke":"independent"},"legend":{"stroke":"independent"}},
"concat":[
{"width":223,"height":84,"resolve":{"axis":{"x":"independent"}},
"layer":[
{"data":{"name":"bg"},"mark":{"type":"rect"},"encoding":{"x":{"field":"t0","type":"quantitative","scale":{"domain":[60,631],"nice":false,"zero":false},"axis":{"orient":"top","values":[122,141,200,232,251,278,300,337,384,451,515,594],"labelExpr":"indexof([141,232,278,300,384], datum.value) >= 0 ? 'LW' : 'SW'","ticks":true,"tickSize":3,"tickColor":"#262626","tickWidth":0.6,"labelFontSize":5.5,"labelPadding":1,"title":null,"labelOverlap":false,"labelFlush":false,"labelBound":false}},"x2":{"field":"t1"},"fill":{"field":"c","type":"nominal","scale":{"domain":["g","y","p"],"range":["#e6faea","#fcfad8","#fce6e6"]},"legend":null}}},
{"data":{"values":[{"v":9.45},{"v":8.0},{"v":6.45}]},"mark":{"type":"rule","color":"#555555","strokeDash":[3,2],"strokeWidth":0.7},"encoding":{"y":{"field":"v","type":"quantitative","axis":{"orient":"left","title":"wind [m/s]","values":[6,7,8,9,10],"format":".1~f","labelOverlap":false,"tickCount":5}}}},
{"data":{"name":"d"},"mark":{"type":"line","strokeWidth":1.1,"clip":true},"encoding":{"x":{"field":"t","type":"quantitative","axis":null},"y":{"field":"w","type":"quantitative","scale":{"domain":[5.15,11.08],"nice":false,"zero":false},"axis":{"orient":"left","title":"wind [m/s]","values":[6,7,8,9,10],"format":".1~f","labelOverlap":false,"tickCount":5}},"stroke":{"datum":"baseline wind speed estimator","scale":{"domain":["baseline wind speed estimator"],"range":["#0072BD"]},"legend":{"orient":"none","legendX":93,"legendY":7,"title":null,"fillColor":"white","strokeColor":"#a0a0a0","padding":1.5,"labelFontSize":6,"symbolType":"stroke","symbolStrokeWidth":1.5,"symbolSize":100,"labelOffset":2}}}},
{"data":{"name":"ann"},"transform":[{"filter":"datum.p=='w' && datum.k=='m'"}],"mark":{"type":"text","align":"left","baseline":"middle","fontSize":7.5,"color":"#262626"},"encoding":{"x":{"field":"t","type":"quantitative","axis":null},"y":{"field":"v","type":"quantitative"},"text":{"field":"txt"}}},
{"data":{"name":"ann"},"transform":[{"filter":"datum.p=='w' && datum.k=='s'"}],"mark":{"type":"text","align":"left","baseline":"middle","fontSize":5,"color":"#262626"},"encoding":{"x":{"field":"t","type":"quantitative","axis":null},"y":{"field":"v","type":"quantitative"},"text":{"field":"txt"}}}
]},
{"width":222,"height":84,
"layer":[
{"data":{"name":"bg"},"mark":{"type":"rect"},"encoding":{"x":{"field":"t0","type":"quantitative","scale":{"domain":[60,631],"nice":false,"zero":false},"axis":null},"x2":{"field":"t1"},"fill":{"field":"c","type":"nominal","scale":{"domain":["g","y","p"],"range":["#e6faea","#fcfad8","#fce6e6"]},"legend":null}}},
{"data":{"values":[{"v":7.32}]},"mark":{"type":"rule","color":"#555555","strokeDash":[3,2],"strokeWidth":0.7},"encoding":{"y":{"field":"v","type":"quantitative","axis":{"orient":"right","title":"RBM [Nm]","titleAngle":270,"titleBaseline":"top","values":[6.5,7,7.5,8],"format":".1~f","labelOverlap":false,"tickCount":4}}}},
{"data":{"name":"d"},"mark":{"type":"line","strokeWidth":1.1,"clip":true},"encoding":{"x":{"field":"t","type":"quantitative","axis":null},"y":{"field":"rf","type":"quantitative","scale":{"domain":[6.34,8.68],"nice":false,"zero":false},"axis":{"orient":"right","title":"RBM [Nm]","titleAngle":270,"titleBaseline":"top","values":[6.5,7,7.5,8],"format":".1~f","labelOverlap":false,"tickCount":4}},"stroke":{"datum":"FF","scale":{"domain":["baseline","LFB","FF"],"range":["#0072BD","#D95319","#EDB120"]},"legend":null}}},
{"data":{"name":"d"},"mark":{"type":"line","strokeWidth":1.1,"clip":true},"encoding":{"x":{"field":"t","type":"quantitative","axis":null},"y":{"field":"rl","type":"quantitative"},"stroke":{"datum":"LFB"}}},
{"data":{"name":"d"},"mark":{"type":"line","strokeWidth":1.1,"clip":true},"encoding":{"x":{"field":"t","type":"quantitative","axis":null},"y":{"field":"rb","type":"quantitative"},"stroke":{"datum":"baseline"}}},
{"data":{"name":"ann"},"transform":[{"filter":"datum.p=='r'"}],"mark":{"type":"text","align":"left","baseline":"middle","fontSize":5.5,"color":"#262626"},"encoding":{"x":{"field":"t","type":"quantitative","axis":null},"y":{"field":"v","type":"quantitative"},"text":{"field":"txt"}}}
]},
{"width":223,"height":84,
"layer":[
{"data":{"name":"bg"},"mark":{"type":"rect"},"encoding":{"x":{"field":"t0","type":"quantitative","scale":{"domain":[60,631],"nice":false,"zero":false},"axis":null},"x2":{"field":"t1"},"fill":{"field":"c","type":"nominal","scale":{"domain":["g","y","p"],"range":["#e6faea","#fcfad8","#fce6e6"]},"legend":null}}},
{"data":{"values":[{"v":7.5},{"v":6.0}]},"mark":{"type":"rule","color":"#555555","strokeDash":[3,2],"strokeWidth":0.7},"encoding":{"y":{"field":"v","type":"quantitative","axis":{"orient":"left","title":"TSR [-]","values":[5,5.5,6,6.5,7,7.5],"format":".1~f","labelOverlap":false,"tickCount":6}}}},
{"data":{"name":"d"},"mark":{"type":"line","strokeWidth":1.1,"clip":true},"encoding":{"x":{"field":"t","type":"quantitative","axis":null},"y":{"field":"sf","type":"quantitative","scale":{"domain":[4.94,7.67],"nice":false,"zero":false},"axis":{"orient":"left","title":"TSR [-]","values":[5,5.5,6,6.5,7,7.5],"format":".1~f","labelOverlap":false,"tickCount":6}},"stroke":{"datum":"FF","scale":{"domain":["baseline","LFB","FF"],"range":["#0072BD","#D95319","#EDB120"]},"legend":null}}},
{"data":{"name":"d"},"mark":{"type":"line","strokeWidth":1.1,"clip":true},"encoding":{"x":{"field":"t","type":"quantitative","axis":null},"y":{"field":"sl","type":"quantitative"},"stroke":{"datum":"LFB"}}},
{"data":{"name":"d"},"mark":{"type":"line","strokeWidth":1.1,"clip":true},"encoding":{"x":{"field":"t","type":"quantitative","axis":null},"y":{"field":"sb","type":"quantitative"},"stroke":{"datum":"baseline"}}},
{"data":{"name":"ann"},"transform":[{"filter":"datum.p=='s' && datum.k=='m'"}],"mark":{"type":"text","align":"left","baseline":"middle","fontSize":7.5,"color":"#262626"},"encoding":{"x":{"field":"t","type":"quantitative","axis":null},"y":{"field":"v","type":"quantitative"},"text":{"field":"txt"}}},
{"data":{"name":"ann"},"transform":[{"filter":"datum.p=='s' && datum.k=='s'"}],"mark":{"type":"text","align":"left","baseline":"middle","fontSize":5,"color":"#262626"},"encoding":{"x":{"field":"t","type":"quantitative","axis":null},"y":{"field":"v","type":"quantitative"},"text":{"field":"txt"}}}
]},
{"width":222,"height":84,
"layer":[
{"data":{"name":"bg"},"mark":{"type":"rect"},"encoding":{"x":{"field":"t0","type":"quantitative","scale":{"domain":[60,631],"nice":false,"zero":false},"axis":null},"x2":{"field":"t1"},"fill":{"field":"c","type":"nominal","scale":{"domain":["g","y","p"],"range":["#e6faea","#fcfad8","#fce6e6"]},"legend":null}}},
{"data":{"name":"d"},"mark":{"type":"line","strokeWidth":1.1,"clip":true},"encoding":{"x":{"field":"t","type":"quantitative","axis":null},"y":{"field":"qf","type":"quantitative","scale":{"domain":[2.44,5.59],"nice":false,"zero":false},"axis":{"orient":"right","title":"torque [Nm]","titleAngle":270,"titleBaseline":"top","values":[3,4,5],"format":".1~f","labelOverlap":false}},"stroke":{"datum":"FF","scale":{"domain":["baseline","LFB","FF"],"range":["#0072BD","#D95319","#EDB120"]},"legend":null}}},
{"data":{"name":"d"},"mark":{"type":"line","strokeWidth":1.1,"clip":true},"encoding":{"x":{"field":"t","type":"quantitative","axis":null},"y":{"field":"ql","type":"quantitative"},"stroke":{"datum":"LFB"}}},
{"data":{"name":"d"},"mark":{"type":"line","strokeWidth":1.1,"clip":true},"encoding":{"x":{"field":"t","type":"quantitative","axis":null},"y":{"field":"qb","type":"quantitative"},"stroke":{"datum":"baseline"}}}
]},
{"width":223,"height":84,
"layer":[
{"data":{"name":"bg"},"mark":{"type":"rect"},"encoding":{"x":{"field":"t0","type":"quantitative","scale":{"domain":[60,631],"nice":false,"zero":false},"axis":{"orient":"bottom","title":"time [s]","values":[100,150,200,250,300,350,400,450,500,550,600],"format":"d","labelOverlap":false}},"x2":{"field":"t1"},"fill":{"field":"c","type":"nominal","scale":{"domain":["g","y","p"],"range":["#e6faea","#fcfad8","#fce6e6"]},"legend":null}}},
{"data":{"name":"d"},"mark":{"type":"line","strokeWidth":1.1,"clip":true},"encoding":{"x":{"field":"t","type":"quantitative"},"y":{"field":"nf","type":"quantitative","scale":{"domain":[436,612],"nice":false,"zero":false},"axis":{"orient":"left","title":"rot. speed [rpm]","values":[450,500,550,600],"format":"d","labelOverlap":false,"tickCount":4}},"stroke":{"datum":"FF","scale":{"domain":["baseline","LFB","FF"],"range":["#0072BD","#D95319","#EDB120"]},"legend":{"orient":"top-left","offset":3,"title":null,"fillColor":"white","strokeColor":"#a0a0a0","padding":2,"labelFontSize":6,"symbolType":"stroke","symbolStrokeWidth":2,"symbolSize":100,"rowPadding":0,"labelOffset":3}}}},
{"data":{"name":"d"},"mark":{"type":"line","strokeWidth":1.1,"clip":true},"encoding":{"x":{"field":"t","type":"quantitative"},"y":{"field":"nl","type":"quantitative"},"stroke":{"datum":"LFB"}}},
{"data":{"name":"d"},"mark":{"type":"line","strokeWidth":1.1,"clip":true},"encoding":{"x":{"field":"t","type":"quantitative"},"y":{"field":"nb","type":"quantitative"},"stroke":{"datum":"baseline"}}}
]},
{"width":222,"height":84,
"layer":[
{"data":{"name":"bg"},"mark":{"type":"rect"},"encoding":{"x":{"field":"t0","type":"quantitative","scale":{"domain":[60,631],"nice":false,"zero":false},"axis":{"orient":"bottom","title":"time [s]","values":[100,150,200,250,300,350,400,450,500,550,600],"format":"d","labelOverlap":false}},"x2":{"field":"t1"},"fill":{"field":"c","type":"nominal","scale":{"domain":["g","y","p"],"range":["#e6faea","#fcfad8","#fce6e6"]},"legend":null}}},
{"data":{"name":"d"},"mark":{"type":"line","strokeWidth":1.1,"clip":true},"encoding":{"x":{"field":"t","type":"quantitative"},"y":{"field":"pf","type":"quantitative","scale":{"domain":[-0.71,9.27],"nice":false,"zero":false},"axis":{"orient":"right","title":"pitch [deg]","titleAngle":270,"titleBaseline":"top","values":[0,2,4,6,8],"format":"d","labelOverlap":false}},"stroke":{"datum":"FF","scale":{"domain":["baseline","LFB","FF"],"range":["#0072BD","#D95319","#EDB120"]},"legend":null}}},
{"data":{"name":"d"},"mark":{"type":"line","strokeWidth":1.1,"clip":true},"encoding":{"x":{"field":"t","type":"quantitative"},"y":{"field":"pl","type":"quantitative"},"stroke":{"datum":"LFB"}}},
{"data":{"name":"d"},"mark":{"type":"line","strokeWidth":1.1,"clip":true},"encoding":{"x":{"field":"t","type":"quantitative"},"y":{"field":"pb","type":"quantitative"},"stroke":{"datum":"baseline"}}}
]}
]
}
